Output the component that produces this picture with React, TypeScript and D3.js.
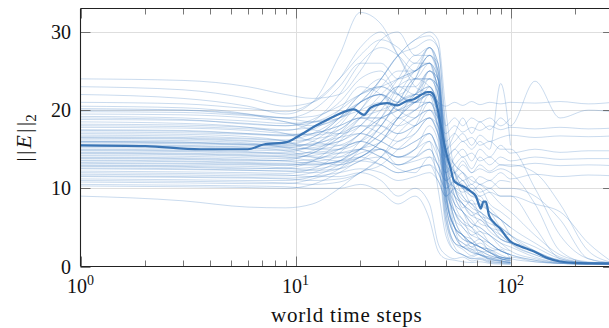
import React from 'react';
import * as d3 from 'd3';

const N = null;

// sample times shared by all runs
const steps = [1, 3, 6, 9, 12, 16, 20, 25, 30, 36, 42, 46, 50, 55, 60, 66, 72, 80, 90, 100, 130, 170, 230, 300];

// individual runs (||E||_2 at each step), null = run ended
const runs: (number | null)[][] = [
  [24, 23.8, 23, 22, 21.5, 22, 25, 29, 30, 27, 28, 26, 12, 5, 2.5, 3, 1.5, 1, 1.2, 0.8, N, N, N, N],
  [23, 22.6, 21.5, 20.5, 21, 24, 28, 30, 27, 24, 26, 20, 7, 3, 2.2, 1.4, 1.8, 0.9, 0.8, 1.2, 0.6, 0.4, 0.3, 0.3],
  [22, 21.5, 20.5, 19.5, 21, 27, 32.5, 31, 27, 23, 22, 17, 6, 2.5, 1.5, 1.2, 1.6, 0.8, 0.7, 0.5, N, N, N, N],
  [20.5, 20.3, 19.5, 18.5, 18, 19, 21, 24, 27, 29, 29.5, 28, 18, 10, 8, 6.5, 7, 5, 4.5, 3, 1.5, 0.6, 0.4, 0.3],
  [20, 20, 19.5, 19, 20, 23, 26, 26, 24, 25, 28, 25, 12, 6, 4, 3, 3.5, 2, 2.2, 1, N, N, N, N],
  [19.5, 19.4, 19, 18.5, 17.5, 17, 18, 21, 24, 27, 27, 26, 16, 12, 10, 9, 8.5, 7, 6, 4, 2, 0.8, 0.5, 0.4],
  [19, 18.8, 18.2, 18, 18.8, 21, 24, 25, 22, 21, 25, 24, 14, 9, 7, 5, 6, 4.5, 3.5, 3, N, N, N, N],
  [18.5, 18.3, 17.8, 17, 16, 15.5, 16, 18, 21, 24, 24, 22, 10, 5, 4, 2.5, 3, 2, 1.2, 1, N, N, N, N],
  [18, 17.9, 17.6, 17.4, 18.5, 22, 26, 28, 27, 25, 27, 24, 12, 7, 5, 4, 3.5, 2.5, 2, 1.5, 0.8, 0.4, 0.3, 0.3],
  [17.5, 17.4, 17, 16.8, 17.5, 20, 23, 22, 20, 22, 25, 23, 13, 11, 10, 8, 8, 7, 6, 5, N, N, N, N],
  [17, 16.9, 16.6, 16, 15, 15, 16, 19, 23, 26, 26, 22, 11, 10, 7.5, 8.5, 6.5, 5.5, 5, 4, 2.5, 1, 0.5, 0.4],
  [16.8, 16.7, 16.4, 16.2, 17, 19, 21, 22, 20, 19, 22, 21, 10, 7, 6, 4, 4.5, 3, 2, 1.5, N, N, N, N],
  [16.5, 16.4, 16.1, 15.8, 15.5, 16, 18, 21, 23, 22, 25, 24, 16, 13, 12, 10, 10, 8, 7, 6, N, N, N, N],
  [16.2, 16.1, 15.8, 15.2, 14.5, 14.5, 15, 17, 19, 22, 22, 20, 9, 5, 3.5, 3, 2, 1.8, 1, 0.8, N, N, N, N],
  [16, 15.9, 15.6, 15.6, 16.5, 19, 22, 24, 22, 21, 24, 23, 12, 8, 7, 5.5, 5, 4, 3, 2, 1, 0.5, 0.4, 0.3],
  [15.8, 15.7, 15.5, 15.3, 15, 15.5, 17, 20, 23, 24, 23, 21, 14, 11, 10.5, 9, 9, 7, 6, 5, N, N, N, N],
  [15.6, 15.5, 15.3, 15.2, 16, 18.5, 21, 22, 21, 24, 27, 25, 13, 7, 5.5, 4.5, 4, 3, 2, 1.5, N, N, N, N],
  [15.5, 15.4, 15.2, 14.8, 14, 13.5, 14, 16, 18, 20, 21, 19, 8, 4, 3, 2.5, 2, 1.4, 1, 0.6, N, N, N, N],
  [15.2, 15.1, 14.9, 14.8, 15.5, 17.5, 19, 19, 21, 24, 24, 22, 15, 13, 12, 11, 10.5, 9.5, 8, 7, 4, 1.5, 0.6, 0.4],
  [15, 14.9, 14.7, 14.4, 14, 14, 15, 18, 21, 22, 23, 20, 11, 6, 4, 3.5, 2.5, 2.2, 1.2, 1, N, N, N, N],
  [14.8, 14.7, 14.5, 14.6, 15.5, 18, 21, 22, 20, 20, 23, 20, 12, 10, 8.5, 8, 6.5, 6, 4.5, 4, N, N, N, N],
  [14.5, 14.4, 14.2, 14, 13.5, 13, 14, 16, 19, 21, 22, 19, 9, 5, 4, 3, 2.5, 1.8, 1, 0.8, N, N, N, N],
  [14.2, 14.1, 13.9, 13.8, 14.5, 16.5, 19, 21, 23, 23, 25, 23, 14, 12, 10, 9.5, 8, 7, 5, 4, 2, 0.8, 0.4, 0.3],
  [14, 13.9, 13.7, 13.5, 13.2, 13.3, 14, 16, 19, 21, 21, 18, 8, 4, 2.5, 2.2, 1.5, 1.2, 0.8, 0.5, N, N, N, N],
  [13.8, 13.7, 13.5, 13.6, 14.5, 16.5, 18, 17, 16, 18, 21, 20, 12, 9, 8, 6.5, 6, 5, 3.5, 3, N, N, N, N],
  [13.5, 13.4, 13.2, 13.1, 13, 13.5, 15, 17, 19, 18, 20, 18, 10, 7, 5.5, 5, 4, 3, 2, 1.5, 0.8, 0.4, 0.3, 0.3],
  [13.2, 13.1, 13, 12.9, 13.5, 15, 17, 19, 20, 21, 22, 19, 11, 9, 8, 7, 6.5, 5, 4, 3, N, N, N, N],
  [13, 12.9, 12.8, 12.6, 12.3, 12.5, 13.5, 15, 14, 15, 18, 16, 7, 3, 2.5, 1.8, 1.5, 1, 0.6, 0.5, N, N, N, N],
  [12.8, 12.7, 12.5, 12.6, 13.5, 16, 19, 22, 24, 25, 26, 22, 10, 5, 3.5, 3, 2.5, 1.8, 1.2, 1, N, N, N, N],
  [12.5, 12.4, 12.3, 12.2, 12, 12.5, 14, 15, 13, 14, 16, 10, 4, 2, 1.5, 1, 1.1, 0.7, 0.5, 0.4, N, N, N, N],
  [12.2, 12.1, 12, 11.9, 12.5, 14.5, 17, 19, 20, 22, 24, 23, 15, 12, 11, 9.5, 8.5, 7.5, 6, 5, 3, 1.2, 0.5, 0.4],
  [12, 11.9, 11.8, 11.7, 11.5, 11.5, 12, 11, 9, 10, 8, 3, 1.5, 1, 1.2, 0.7, 0.9, 0.5, 0.4, 0.3, N, N, N, N],
  [11.8, 11.7, 11.6, 11.6, 12, 13.5, 15, 16, 19, 21, 22, 20, 9, 5, 4, 3, 2.5, 1.8, 1, 0.8, N, N, N, N],
  [11.5, 11.4, 11.3, 11.2, 11, 11.2, 12, 14, 17, 19, 20, 19, 12, 8, 7, 5.5, 5, 4, 3, 2.5, 1.2, 0.5, 0.4, 0.3],
  [11.2, 11.1, 11, 11, 11.5, 13, 14.5, 15, 14, 15, 17, 14, 5, 2, 1.5, 1, 1, 0.6, 0.5, 0.4, N, N, N, N],
  [11, 10.9, 10.8, 10.7, 10.5, 10.8, 12, 14, 16, 17, 19, 17, 8, 4, 3, 2.2, 2, 1.4, 1, 0.7, N, N, N, N],
  [10.8, 10.7, 10.6, 10.6, 11.2, 12.5, 15, 18, 21, 22, 22, 21, 13, 10, 9, 7.5, 7, 6, 5, 4, N, N, N, N],
  [10.5, 10.4, 10.3, 10.2, 10, 10, 10.5, 9.5, 8, 9, 6, 2, 1, 0.8, 0.6, 0.5, 0.6, 0.4, 0.3, 0.3, N, N, N, N],
  [10.3, 10.2, 10.1, 10, 10.5, 12, 13.5, 14, 12.5, 12, 14, 13, 6, 3, 2.5, 1.8, 1.5, 1, 0.7, 0.5, N, N, N, N],
  [9, 8.4, 7.6, 7.5, 8, 10, 12, 13, 15, 17, 19, 18, 9, 5, 4, 3, 2.5, 1.8, 1.2, 1, N, N, N, N],
  [21, 20.8, 20.2, 19.8, 21, 24, 27, 29, 28, 26, 28, 24, 10, 4, 2.5, 2, 1.5, 1.2, 0.7, 0.5, N, N, N, N],
  [20.2, 20, 19.4, 19, 18.5, 19, 21, 24, 27, 29, 30, 29, 20, 12, 9, 8, 7, 6, 4, 3, 1.5, 0.6, 0.4, 0.3],
  [17.8, 17.7, 17.4, 17, 16.8, 17.5, 20, 24, 27, 28, 29, 28, 17, 10, 8, 7, 5.5, 5, 3.5, 3, N, N, N, N],
  [16.4, 16.3, 16, 15.8, 16.5, 19, 22, 23, 22, 24, 28, 26, 15, 9, 7, 6, 4.5, 4, 2.5, 2, N, N, N, N],
  [14.6, 14.5, 14.3, 14.2, 14.8, 17, 20, 23, 25, 25, 27, 25, 14, 8, 6, 5, 3.5, 3, 2, 1.5, N, N, N, N],
  [13.3, 13.2, 13.1, 13, 13, 13.5, 16, 19, 22, 25, 26, 24, 13, 6, 5, 3.5, 2.5, 2.2, 1.5, 1, 0.6, 0.4, 0.3, 0.3],
  // runs that stay on a plateau
  [19.2, 19, 18.6, 18.3, 18.5, 20, 22, 23, 22, 21, 22, 21, 20.5, 21, 20.6, 21.1, 20.7, 21, 20.8, 21, 20.9, 21.1, 20.8, 21],
  [18.2, 18.1, 17.8, 17.5, 17.8, 19, 20, 21, 19, 20, 21, 19, 17, 18, 17.2, 17.8, 17.4, 18, 17.5, 17.8, 17.6, 17.8, 17.6, 17.7],
  [17.2, 17.1, 16.9, 16.7, 17, 18, 19, 19, 18, 19, 20, 18, 15, 16, 17, 15.5, 16.8, 16, 16.5, 16.8, 16.5, 16.7, 16.6, 16.7],
  [16.6, 16.5, 16.3, 16.1, 16.3, 17, 18, 18, 17, 18, 19, 17, 14, 15, 16, 15, 16, 15, 23.4, 15.5, N, N, N, N],
  [15.4, 15.3, 15.1, 15, 15.2, 16, 17, 16, 15, 16, 17, 15, 12, 14, 15, 13.5, 15, 14, 15.5, 14.5, 15, 14.6, 14.8, 14.8],
  [14.4, 14.3, 14.1, 14, 14.2, 15, 16, 15, 14, 15, 16, 14, 12, 13, 14, 12.5, 14, 13, 14, 13.5, 14, 13.7, 13.8, 13.8],
  [13.6, 13.5, 13.3, 13.2, 13.4, 14, 15, 14, 13, 14, 15, 13, 11, 12, 13.5, 12, 13, 12.2, 13, 12.8, 13.2, 12.9, 13, 12.9],
  [12.6, 12.5, 12.3, 12.2, 12.4, 13, 13.5, 13, 12, 12.5, 13, 12, 10, 11, 12, 10.5, 11.5, 11, 12, 11.2, 11.8, 11.5, 11.7, 11.6],
  [11.6, 11.5, 11.4, 11.3, 11.5, 12, 12.5, 12, 11, 11.5, 12, 11, 9, 10, 11, 9.5, 10.5, 10, 11, 10.8, N, N, N, N],
  [15.9, 15.8, 15.6, 15.4, 15.6, 17, 19, 20, 21, 22, 23, 20, 15, 17, 19, 17, 18.5, 17.5, 19, 18, 23.7, 19, 20, 19.8],
  [19.8, 19.7, 19.3, 19, 19.2, 20.5, 22, 23, 24, 25, 26, 24, 18, 19, 18, 19, 18.5, 19, 18, 19, N, N, N, N],
  // runs that drop late
  [18.8, 18.7, 18.3, 18, 18.4, 19.5, 21, 22, 21, 21, 22, 20, 16, 17, 16, 16.5, 15.5, 16, 15, 15, 10, 4, 1, 0.5],
  [17.4, 17.3, 17, 16.8, 17, 18, 19, 18, 17, 18, 19, 17, 14, 15, 14, 14.5, 13.5, 14, 13, 13, 12, 8, 2, 0.5],
  [16, 15.9, 15.7, 15.5, 15.7, 16.5, 17, 16, 15, 16, 17, 15, 13, 12, 13, 12, 12.5, 12, 12.5, 12, 8, 2, 0.5, 0.4],
  [14.9, 14.8, 14.6, 14.4, 14.6, 15, 16, 15, 14, 14, 15, 13, 11, 12, 11, 11.5, 10.5, 11, 10, 10, 9, 6, 1, 0.4],
  [13.9, 13.8, 13.6, 13.5, 13.7, 14.5, 15, 14, 13, 13.5, 14, 12, 10, 11, 10, 10.5, 9.5, 10, 9, 9, 5, 1, 0.4, 0.3],
  [12.9, 12.8, 12.6, 12.5, 12.7, 13.5, 14, 13, 12, 12.5, 13, 11, 9, 10, 9.5, 10, 9, 9.5, 9, 9, 8, 7, 3, 0.5],
];

// thick summary line
const medianSteps = [1, 2, 3.6, 6, 7.1, 9.1, 10.2, 12.6, 15.1, 18.7, 20.8, 22.3, 24.9, 26.7, 29.7, 33.1, 35.5, 38.1, 41, 42.4, 44, 45.6, 47.2, 48.8, 50.5, 52.6, 54.5, 56.5, 60.7, 65.3, 69, 71.5, 72.7, 74.8, 76.8, 79.5, 83.9, 89.9, 96.2, 100, 111, 128, 148, 170, 204, 250, 300];
const medianErr = [15.5, 15.4, 15.0, 15.0, 15.6, 15.9, 16.6, 18.1, 19.2, 20.1, 19.4, 20.3, 20.8, 20.9, 20.6, 21.2, 21.4, 21.9, 22.3, 22.3, 21.9, 20.4, 18.3, 16.2, 14.3, 12.6, 11.0, 10.6, 10.2, 9.6, 9.0, 7.8, 7.4, 8.3, 8.3, 6.5, 5.6, 4.8, 3.7, 3.2, 2.6, 1.95, 1.1, 0.64, 0.43, 0.4, 0.4];

const xMajor = [1, 10, 100];
const xMinor = [2, 3, 4, 5, 6, 7, 8, 9, 20, 30, 40, 50, 60, 70, 80, 90, 200, 300];
const yTicks = [0, 10, 20, 30];

const FONT = '"Liberation Serif", "Times New Roman", serif';

export default function App() {
  const W = 609, H = 328;
  const x0 = 80.5, yTop = 8.5, yBot = 266.5;
  const x = d3.scaleLog().domain([1, 100]).range([x0, x0 + 430]);
  const xEnd = x(300);
  const y = d3.scaleLinear().domain([0, 33]).range([yBot, yTop]);

  const line = d3.line<[number, number | null]>()
    .defined(d => d[1] != null)
    .x(d => x(d[0]))
    .y(d => y(d[1] as number))
    .curve(d3.curveMonotoneX);

  const medianPath = line(medianSteps.map((t, i) => [t, medianErr[i]]));

  return (
    <svg width={W} height={H} style={{ position: 'fixed', left: 0, top: 0, background: '#fff' }}>
      <defs>
        <clipPath id="plot">
          <rect x={x0} y={yTop} width={xEnd - x0} height={yBot - yTop} />
        </clipPath>
      </defs>

      {/* grid */}
      <g stroke="#dedede" strokeWidth={1}>
        {yTicks.filter(v => v > 0).map(v => (
          <line key={'gy' + v} x1={x0} x2={xEnd} y1={Math.round(y(v)) + 0.5} y2={Math.round(y(v)) + 0.5} />
        ))}
        {xMajor.filter(v => v > 1).map(v => (
          <line key={'gx' + v} x1={Math.round(x(v)) + 0.5} x2={Math.round(x(v)) + 0.5} y1={yTop} y2={yBot} />
        ))}
      </g>

      {/* runs */}
      <g clipPath="url(#plot)" fill="none">
        {runs.map((r, i) => (
          <path key={i} d={line(steps.map((t, j) => [t, r[j]])) || ''}
            stroke="#4a86c5" strokeOpacity={0.33} strokeWidth={0.9} />
        ))}
        <path d={medianPath || ''} stroke="#3a75b5" strokeWidth={2.2} strokeLinejoin="round" />
      </g>

      {/* ticks */}
      <g stroke="#555" strokeWidth={0.8}>
        {xMinor.map(v => {
          const px = Math.round(x(v)) + 0.5;
          return (
            <g key={'tm' + v}>
              <line x1={px} x2={px} y1={yBot} y2={yBot - 6} />
              <line x1={px} x2={px} y1={yTop} y2={yTop + 6} />
            </g>
          );
        })}
        {xMajor.map(v => {
          const px = Math.round(x(v)) + 0.5;
          return (
            <g key={'tM' + v}>
              <line x1={px} x2={px} y1={yBot} y2={yBot - 10} />
              <line x1={px} x2={px} y1={yTop} y2={yTop + 10} />
            </g>
          );
        })}
        {yTicks.map(v => {
          const py = Math.round(y(v)) + 0.5;
          return (
            <g key={'ty' + v}>
              <line x1={x0} x2={x0 + 10} y1={py} y2={py} />
              <line x1={xEnd} x2={xEnd - 10} y1={py} y2={py} />
            </g>
          );
        })}
      </g>

      {/* axis frame */}
      <g stroke="#222" strokeWidth={1.1} fill="none">
        <line x1={x0} x2={xEnd} y1={yBot} y2={yBot} />
        <line x1={x0} x2={xEnd} y1={yTop} y2={yTop} />
        <line x1={x0} x2={x0} y1={yTop} y2={yBot} />
        <line x1={xEnd} x2={xEnd} y1={yTop} y2={yBot} />
      </g>

      {/* tick labels */}
      <g fontFamily={FONT} fontSize={20} fill="#111">
        {yTicks.map(v => (
          <text key={'ly' + v} x={71} y={y(v)} dy="0.35em" textAnchor="end">{v}</text>
        ))}
        {xMajor.map((v, i) => (
          <text key={'lx' + v} x={x(v)} y={293} textAnchor="middle">
            10<tspan fontSize={14} dy={-8}>{i}</tspan>
          </text>
        ))}
      </g>

      {/* axis titles */}
      <text x={(x0 + xEnd) / 2} y={322} textAnchor="middle" fontFamily={FONT} fontSize={21}
        letterSpacing={0.8} fill="#111">world time steps</text>
      <text transform="translate(31,138) rotate(-90)" textAnchor="middle" fontFamily={FONT} fontSize={22} fill="#111">
        <tspan>|</tspan><tspan dx={2.5}>|</tspan>
        <tspan dx={2} fontStyle="italic">E</tspan>
        <tspan dx={2}>|</tspan><tspan dx={2.5}>|</tspan>
        <tspan fontSize={15} dy={5}>2</tspan>
      </text>
    </svg>
  );
}
